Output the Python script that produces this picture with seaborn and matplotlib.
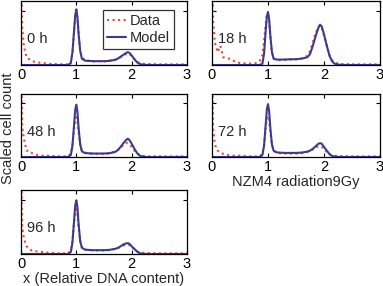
import matplotlib
matplotlib.use("Agg")
import matplotlib.pyplot as plt
import seaborn as sns
import pandas as pd

x = [0, 0.02, 0.05, 0.1, 0.15, 0.2, 0.3, 0.4, 0.5, 0.6, 0.7, 0.8, 0.85, 0.9, 0.93, 0.96, 0.98,
     1.0, 1.02, 1.04, 1.07, 1.1, 1.15, 1.2, 1.3, 1.4, 1.5, 1.6, 1.7, 1.75, 1.8, 1.85, 1.9, 1.93,
     1.96, 2.0, 2.05, 2.1, 2.15, 2.2, 2.3, 2.5, 2.7, 2.9, 3.0]

labels = ["0 h", "18 h", "48 h", "72 h", "96 h"]

model_0h = [0, 0, 0, 0, 0, 0, 0, 0, 0, 0, 0, 0, 0, 0.03, 0.2, 0.55, 0.78,
            0.87, 0.75, 0.5, 0.22, 0.1, 0.07, 0.065, 0.06, 0.06, 0.06, 0.065, 0.08, 0.1, 0.13, 0.16, 0.19, 0.2,
            0.19, 0.15, 0.09, 0.04, 0.015, 0.005, 0, 0, 0, 0, 0]
data_0h = [1.5, 0.6, 0.3, 0.12, 0.09, 0.06, 0.04, 0.03, 0.02, 0.015, 0.01, 0.01, 0.01, 0.04, 0.2, 0.52, 0.75,
           0.84, 0.72, 0.48, 0.22, 0.12, 0.08, 0.07, 0.055, 0.06, 0.055, 0.07, 0.085, 0.1, 0.12, 0.15, 0.17, 0.18,
           0.17, 0.14, 0.09, 0.05, 0.03, 0.02, 0.015, 0.01, 0.01, 0.01, 0.01]

model_18h = [0, 0, 0, 0, 0, 0, 0, 0, 0, 0, 0, 0, 0, 0.02, 0.18, 0.55, 0.76,
             0.83, 0.72, 0.48, 0.2, 0.1, 0.085, 0.085, 0.085, 0.09, 0.09, 0.1, 0.12, 0.17, 0.3, 0.45, 0.58, 0.63,
             0.6, 0.48, 0.3, 0.14, 0.05, 0.015, 0.002, 0, 0, 0, 0]
data_18h = [1.5, 0.7, 0.35, 0.2, 0.3, 0.12, 0.1, 0.06, 0.03, 0.025, 0.02, 0.03, 0.06, 0.15, 0.38, 0.65, 0.78,
            0.8, 0.68, 0.45, 0.2, 0.1, 0.08, 0.075, 0.08, 0.085, 0.09, 0.1, 0.14, 0.22, 0.35, 0.5, 0.6, 0.62,
            0.58, 0.46, 0.3, 0.15, 0.07, 0.03, 0.015, 0.01, 0.01, 0.01, 0.01]

model_48h = [0, 0, 0, 0, 0, 0, 0, 0, 0, 0, 0, 0, 0, 0.03, 0.18, 0.52, 0.75,
             0.83, 0.72, 0.47, 0.2, 0.09, 0.065, 0.06, 0.055, 0.055, 0.055, 0.06, 0.08, 0.11, 0.16, 0.22, 0.27, 0.29,
             0.27, 0.21, 0.13, 0.06, 0.02, 0.005, 0, 0, 0, 0, 0]
data_48h = [1.5, 0.5, 0.3, 0.1, 0.1, 0.06, 0.03, 0.02, 0.02, 0.015, 0.01, 0.01, 0.01, 0.05, 0.2, 0.45, 0.6,
            0.63, 0.56, 0.4, 0.2, 0.1, 0.07, 0.06, 0.05, 0.05, 0.05, 0.06, 0.09, 0.11, 0.15, 0.19, 0.22, 0.22,
            0.2, 0.16, 0.1, 0.05, 0.03, 0.02, 0.01, 0.01, 0.01, 0.01, 0.01]

model_72h = [0, 0, 0, 0, 0, 0, 0, 0, 0, 0, 0, 0, 0, 0.03, 0.18, 0.53, 0.76,
             0.84, 0.73, 0.48, 0.2, 0.1, 0.075, 0.07, 0.065, 0.065, 0.065, 0.07, 0.085, 0.1, 0.13, 0.17, 0.21, 0.22,
             0.21, 0.16, 0.1, 0.045, 0.015, 0.005, 0, 0, 0, 0, 0]
data_72h = [1.5, 0.45, 0.2, 0.1, 0.07, 0.05, 0.03, 0.02, 0.02, 0.015, 0.01, 0.01, 0.01, 0.05, 0.2, 0.47, 0.62,
            0.65, 0.58, 0.4, 0.2, 0.1, 0.07, 0.06, 0.055, 0.055, 0.055, 0.06, 0.08, 0.1, 0.12, 0.15, 0.17, 0.17,
            0.16, 0.12, 0.08, 0.04, 0.025, 0.02, 0.015, 0.01, 0.01, 0.01, 0.01]

model_96h = [0, 0, 0, 0, 0, 0, 0, 0, 0, 0, 0, 0, 0, 0.03, 0.18, 0.53, 0.76,
             0.84, 0.73, 0.48, 0.2, 0.1, 0.07, 0.065, 0.06, 0.06, 0.06, 0.065, 0.08, 0.095, 0.12, 0.15, 0.165, 0.17,
             0.16, 0.12, 0.08, 0.035, 0.012, 0.004, 0, 0, 0, 0, 0]
data_96h = [1.5, 0.45, 0.25, 0.12, 0.08, 0.05, 0.04, 0.03, 0.02, 0.015, 0.01, 0.01, 0.01, 0.05, 0.22, 0.5, 0.67,
            0.7, 0.62, 0.42, 0.2, 0.1, 0.07, 0.06, 0.055, 0.055, 0.055, 0.06, 0.08, 0.095, 0.11, 0.13, 0.15, 0.15,
            0.14, 0.11, 0.07, 0.04, 0.025, 0.02, 0.015, 0.01, 0.01, 0.01, 0.01]

models = [model_0h, model_18h, model_48h, model_72h, model_96h]
datas = [data_0h, data_18h, data_48h, data_72h, data_96h]

sns.set_theme(style="white")
plt.rcParams["font.family"] = ["Liberation Sans", "DejaVu Sans"]
plt.rcParams["font.size"] = 10

fig = plt.figure(figsize=(3.83, 2.86), dpi=100)
W = 383.0
H = 286.0
# pixel boxes: left, top, right, bottom
boxes = [(21, 1, 187, 65), (212, 1, 380, 65), (21, 94, 187, 157), (212, 94, 380, 157), (21, 190, 187, 254)]
red = "#e2483c"
blue = "#3c3c8e"
axes = []
for i, (l, t, r, b) in enumerate(boxes):
    ax = fig.add_axes([l / W, 1 - b / H, (r - l) / W, (b - t) / H])
    df = pd.DataFrame({"x": x, "data": datas[i], "model": models[i]})
    sns.lineplot(data=df, x="x", y="data", ax=ax, color=red, linestyle=":", linewidth=1.5, label="Data")
    sns.lineplot(data=df, x="x", y="model", ax=ax, color=blue, linestyle="-", linewidth=1.5, label="Model")
    ax.set_xlim(0, 3)
    ax.set_ylim(0, 1)
    ax.set_xticks([0, 1, 2, 3])
    ax.set_xticklabels(["0", "1", "2", "3"])
    ax.set_yticks([0.85])
    ax.set_yticklabels([])
    ax.tick_params(direction="in", top=True, right=True, left=True, bottom=True,
                   length=3, width=0.8, labelsize=10.5, pad=2, colors="black", labelcolor="black")
    for s in ax.spines.values():
        s.set_color("black")
        s.set_linewidth(0.9)
    ax.set_xlabel("")
    ax.set_ylabel("")
    ax.text(0.1, 0.4, labels[i], fontsize=10.5, va="center", ha="left")
    if i == 0:
        leg = ax.legend(loc="upper right", bbox_to_anchor=(0.92, 0.86), frameon=True, fancybox=False,
                        edgecolor="black", fontsize=10.5, handlelength=1.3, handletextpad=0.3,
                        borderpad=0.25, labelspacing=0.25, borderaxespad=0)
        leg.get_frame().set_linewidth(0.9)
    else:
        ax.get_legend().remove()
    axes.append(ax)

axes[4].set_xlabel("x (Relative DNA content)", fontsize=10.5, labelpad=1)
axes[3].set_xlabel("NZM4 radiation9Gy", fontsize=10.5, labelpad=1)
fig.text(8 / W, 1 - 128 / H, "Scaled cell count", rotation=90, ha="center", va="center", fontsize=10.5)

fig.savefig("out.png", dpi=100)
